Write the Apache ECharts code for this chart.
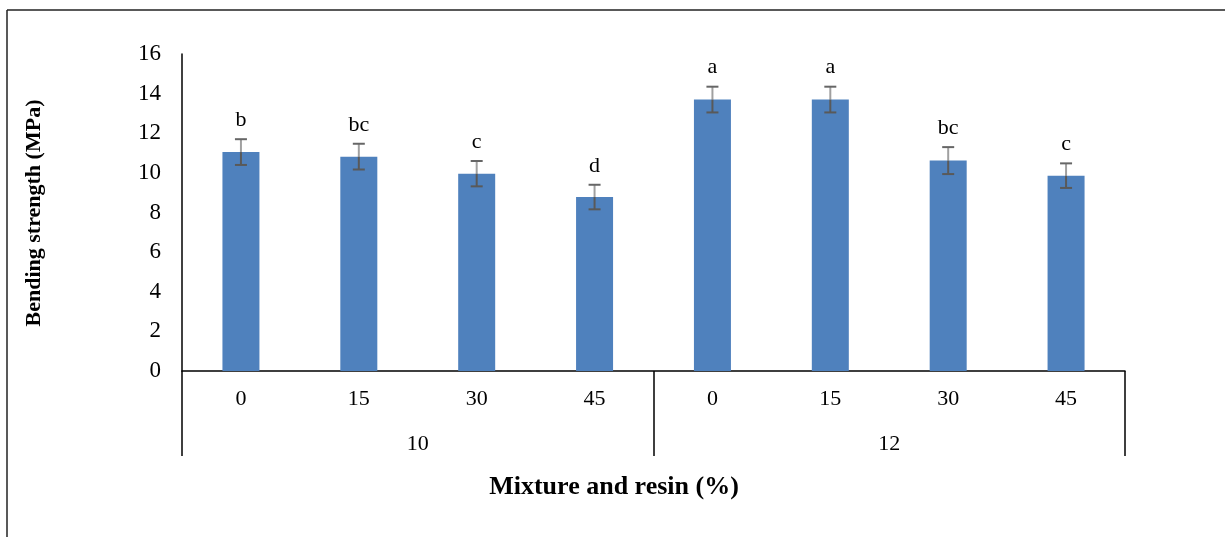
<!DOCTYPE html>
<html>
<head>
<meta charset="utf-8">
<script src="https://cdn.jsdelivr.net/npm/echarts@6/dist/echarts.min.js"></script>
<style>
html,body{margin:0;padding:0;background:#fff;}
#chart{width:1225px;height:537px;}
</style>
</head>
<body>
<div id="chart"></div>
<script>
// Data
const categories = ['0', '15', '30', '45', '0', '15', '30', '45'];
const groups = ['10', '12'];
const values = [11.05, 10.82, 9.96, 8.78, 13.70, 13.70, 10.62, 9.86];
const errors = [0.65, 0.65, 0.64, 0.62, 0.65, 0.65, 0.68, 0.62];
const letters = ['b', 'bc', 'c', 'd', 'a', 'a', 'bc', 'c'];
const yTicks = [0, 2, 4, 6, 8, 10, 12, 14, 16];

const serif = '"Liberation Serif", "Times New Roman", serif';
const chart = echarts.init(document.getElementById('chart'));

const errData = values.map((v, i) => [i, v, v - errors[i], v + errors[i], letters[i]]);

chart.setOption({
  animation: false,
  backgroundColor: '#ffffff',
  grid: { left: 182, right: 100, top: 54, bottom: 166, containLabel: false },
  xAxis: [
    {
      type: 'category',
      data: categories,
      position: 'bottom',
      axisLine: { show: true, lineStyle: { color: '#000', width: 1.5 } },
      axisTick: { show: false },
      axisLabel: { color: '#000', fontFamily: serif, fontSize: 22, margin: 17 },
      splitLine: { show: false }
    },
    {
      type: 'category',
      data: groups,
      position: 'bottom',
      axisLine: { show: false },
      axisTick: { show: true, length: 85, lineStyle: { color: '#000', width: 1.5 } },
      axisLabel: { color: '#000', fontFamily: serif, fontSize: 22, margin: 62 },
      splitLine: { show: false }
    }
  ],
  yAxis: {
    type: 'value',
    min: 0,
    max: 16,
    interval: 2,
    axisLine: { show: true, lineStyle: { color: '#000', width: 1.5 } },
    axisTick: { show: false },
    splitLine: { show: false },
    axisLabel: {
      color: '#000', fontFamily: serif, fontSize: 23, margin: 21,
      formatter: v => yTicks.includes(v) ? String(v) : ''
    }
  },
  graphic: [
    { type: 'line', shape: { x1: 7, y1: 10, x2: 1225, y2: 10 }, style: { stroke: '#222', lineWidth: 1.5 } },
    { type: 'line', shape: { x1: 7, y1: 10, x2: 7, y2: 537 }, style: { stroke: '#222', lineWidth: 1.5 } },
    {
      type: 'text', x: 34, y: 213, rotation: Math.PI / 2,
      style: { text: 'Bending strength (MPa)', font: 'bold 22px ' + serif, fill: '#000', textAlign: 'center', textVerticalAlign: 'middle' }
    },
    {
      type: 'text', x: 614, y: 487,
      style: { text: 'Mixture and resin (%)', font: 'bold 26px ' + serif, fill: '#000', textAlign: 'center', textVerticalAlign: 'middle' }
    }
  ],
  series: [
    {
      type: 'bar',
      data: values,
      barWidth: 37,
      itemStyle: { color: '#4f81bd' }
    },
    {
      type: 'custom',
      data: errData,
      z: 10,
      renderItem: function (params, api) {
        const x = api.value(0);
        const mid = api.coord([x, api.value(1)]);
        const lo = api.coord([x, api.value(2)]);
        const hi = api.coord([x, api.value(3)]);
        const hw = 6;
        return {
          type: 'group',
          children: [
            { type: 'line', shape: { x1: hi[0], y1: hi[1], x2: mid[0], y2: mid[1] }, style: { stroke: '#a0a0a0', lineWidth: 2 } },
            { type: 'line', shape: { x1: mid[0], y1: mid[1], x2: lo[0], y2: lo[1] }, style: { stroke: '#595959', lineWidth: 2 } },
            { type: 'line', shape: { x1: hi[0] - hw, y1: hi[1], x2: hi[0] + hw, y2: hi[1] }, style: { stroke: '#666', lineWidth: 2 } },
            { type: 'line', shape: { x1: lo[0] - hw, y1: lo[1], x2: lo[0] + hw, y2: lo[1] }, style: { stroke: '#595959', lineWidth: 2 } },
            { type: 'text', x: hi[0], y: hi[1] - 8, style: { text: api.value(4), font: '22px ' + serif, fill: '#000', textAlign: 'center', textVerticalAlign: 'bottom' } }
          ]
        };
      }
    }
  ]
});
</script>
</body>
</html>
